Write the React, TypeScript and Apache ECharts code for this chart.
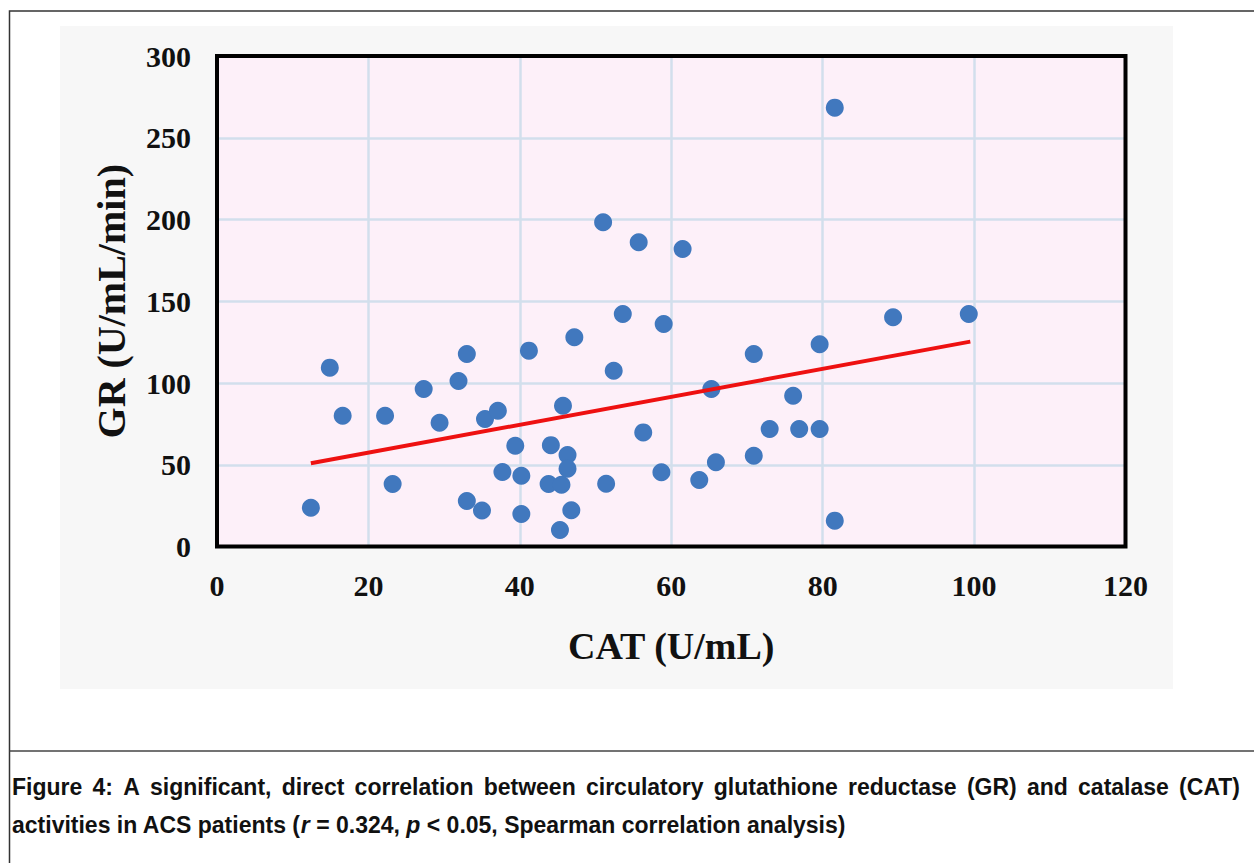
import React, { useEffect, useRef } from "react";
import * as echarts from "echarts";

// CAT (U/mL) values
const catValues = [
  14.9, 16.6, 22.2, 23.2, 12.4, 27.3, 29.4, 31.9, 33.0, 33.0,
  35.0, 35.4, 37.1, 37.7, 39.4, 40.2, 40.2, 41.2, 44.1, 43.8,
  45.5, 45.3, 45.7, 46.3, 46.3, 46.8, 47.2, 51.4, 52.4, 53.6,
  56.3, 58.7, 59.0, 63.7, 65.3, 65.9, 70.9, 70.9, 73.0, 76.1,
  76.9, 79.6, 79.6, 81.6, 89.3, 99.3, 81.6, 51.0, 55.7, 61.5,
];
// GR (U/mL/min) values
const grValues = [
  109.4, 80.0, 80.0, 38.2, 23.7, 96.3, 75.7, 101.2, 117.7, 27.8,
  22.0, 78.0, 83.0, 45.6, 61.6, 43.3, 19.9, 119.8, 62.0, 38.2,
  37.8, 10.1, 86.1, 56.0, 47.6, 22.2, 128.0, 38.4, 107.5, 142.2,
  69.8, 45.4, 136.1, 40.7, 96.3, 51.5, 117.7, 55.5, 71.9, 92.2,
  71.9, 71.9, 123.7, 15.8, 140.2, 142.2, 268.4, 198.3, 186.1, 182.0,
];
// Linear trend line end points
const trendX = [12.4, 99.5];
const trendY = [50.9, 125.3];

const xTicks = [0, 20, 40, 60, 80, 100, 120];
const yTicks = [0, 50, 100, 150, 200, 250, 300];

const xTitle = "CAT (U/mL)";
const yTitle = "GR (U/mL/min)";
const captionLine1 =
  "Figure 4: A significant, direct correlation between circulatory glutathione reductase (GR) and catalase (CAT)";

// plot frame (pixels)
const PL = 217;
const PR = 1125.5;
const PT = 56;
const PB = 546.5;

export default function App() {
  const ref = useRef<HTMLDivElement>(null);

  useEffect(() => {
    if (!ref.current) return;
    const chart = echarts.init(ref.current, undefined, { renderer: "svg" });
    const points = catValues.map((x, i) => [x, grValues[i]]);
    const trend = trendX.map((x, i) => [x, trendY[i]]);
    const serif = "'Liberation Serif', 'Times New Roman', serif";
    const sans = "'Liberation Sans', Arial, sans-serif";
    const capSize = 23;

    // justify first caption line across 12..1240
    const words = captionLine1.split(" ");
    const ctx = document.createElement("canvas").getContext("2d");
    let widths: number[] = words.map((w) => w.length * capSize * 0.6);
    if (ctx) {
      ctx.font = `bold ${capSize}px 'Liberation Sans', Arial, sans-serif`;
      widths = words.map((w) => ctx.measureText(w).width);
    }
    const total = widths.reduce((a, b) => a + b, 0);
    const startX = 12;
    const endX = 1240;
    const gap = (endX - startX - total) / (words.length - 1);
    let cx = startX;
    const wordTexts = words.map((w, i) => {
      const el = {
        type: "text",
        x: cx,
        y: 787,
        style: {
          text: w,
          fontFamily: sans,
          fontWeight: "bold",
          fontSize: capSize,
          fill: "#111",
          verticalAlign: "middle",
        },
        z: 10,
      };
      cx += widths[i] + gap;
      return el;
    });

    chart.setOption({
      animation: false,
      backgroundColor: "#ffffff",
      grid: {
        left: PL,
        right: 1254 - PR,
        top: PT,
        bottom: 863 - PB,
        show: true,
        backgroundColor: "#fdf0f9",
        borderWidth: 0,
        z: 0,
      },
      xAxis: {
        type: "value",
        min: xTicks[0],
        max: xTicks[xTicks.length - 1],
        interval: 20,
        name: xTitle,
        nameLocation: "middle",
        nameGap: 80,
        nameTextStyle: { fontFamily: serif, fontWeight: "bold", fontSize: 38, color: "#111" },
        axisLine: { show: false },
        axisTick: { show: false },
        axisLabel: { fontFamily: serif, fontWeight: "bold", fontSize: 30, color: "#111", margin: 24 },
        splitLine: {
          show: true,
          showMinLine: false,
          showMaxLine: false,
          lineStyle: { color: "#d2dfec", width: 2.5 },
        },
        z: 1,
      },
      yAxis: {
        type: "value",
        min: yTicks[0],
        max: yTicks[yTicks.length - 1],
        interval: 50,
        name: yTitle,
        nameLocation: "middle",
        nameGap: 86,
        nameTextStyle: { fontFamily: serif, fontWeight: "bold", fontSize: 40, color: "#111" },
        axisLine: { show: false },
        axisTick: { show: false },
        axisLabel: { fontFamily: serif, fontWeight: "bold", fontSize: 30, color: "#111", margin: 26 },
        splitLine: {
          show: true,
          showMinLine: false,
          showMaxLine: false,
          lineStyle: { color: "#d2dfec", width: 2.5 },
        },
        z: 1,
      },
      graphic: [
        {
          type: "rect",
          shape: { x: 60, y: 26, width: 1113, height: 663 },
          style: { fill: "#f7f7f7" },
          z: -10,
          silent: true,
        },
        {
          type: "rect",
          shape: { x: PL, y: PT, width: PR - PL, height: PB - PT },
          style: { fill: null, stroke: "#000", lineWidth: 4 },
          z: 2,
          silent: true,
        },
        {
          type: "polyline",
          shape: { points: [[9.5, 863], [9.5, 11], [1254, 11]] },
          style: { stroke: "#333", lineWidth: 1.5, fill: null },
          z: 10,
          silent: true,
        },
        {
          type: "line",
          shape: { x1: 9.5, y1: 751, x2: 1254, y2: 751 },
          style: { stroke: "#444", lineWidth: 1.5 },
          z: 10,
          silent: true,
        },
        ...wordTexts,
        {
          type: "text",
          x: 12,
          y: 825,
          style: {
            rich: {
              n: { fontFamily: sans, fontWeight: "bold", fontSize: capSize, fill: "#111" },
              i: { fontFamily: sans, fontWeight: "bold", fontStyle: "italic", fontSize: capSize, fill: "#111" },
            },
            text:
              "{n|activities in ACS patients (}{i|r}{n| = 0.324, }{i|p}{n| < 0.05, Spearman correlation analysis)}",
            verticalAlign: "middle",
          },
          z: 10,
        },
      ],
      series: [
        {
          type: "scatter",
          data: points,
          symbolSize: 18,
          itemStyle: { color: "#4178be", opacity: 1 },
          z: 3,
        },
        {
          type: "line",
          data: trend,
          symbol: "none",
          lineStyle: { color: "#ee1111", width: 4 },
          z: 4,
        },
      ],
    });
    return () => chart.dispose();
  }, []);

  return (
    <div
      ref={ref}
      style={{ position: "fixed", left: 0, top: 0, width: 1254, height: 863 }}
    />
  );
}
